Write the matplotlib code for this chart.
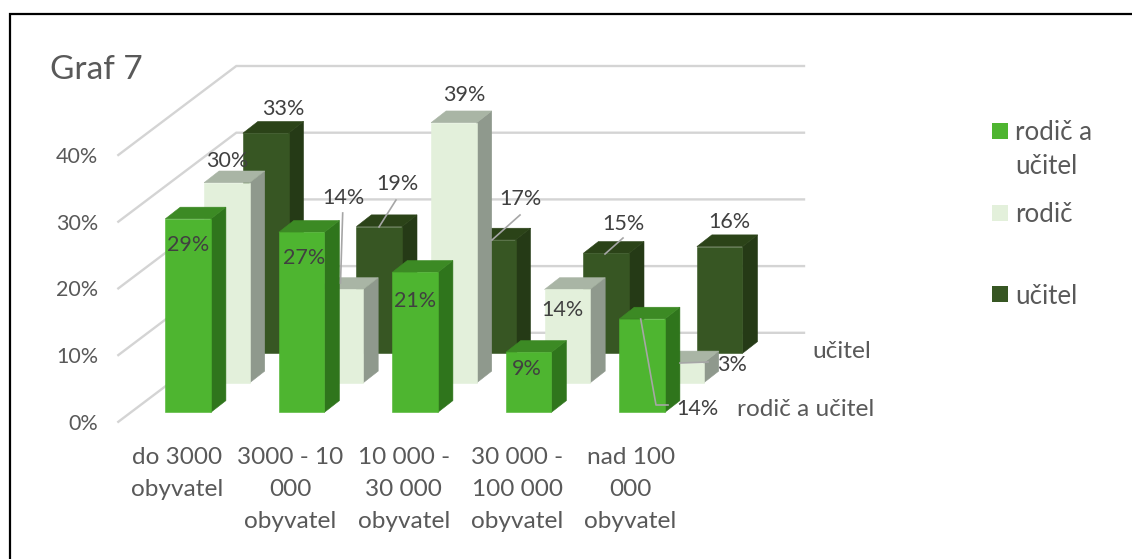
import matplotlib
matplotlib.use("Agg")
import matplotlib.pyplot as plt
from matplotlib.patches import Polygon, Rectangle
from matplotlib.transforms import Affine2D

W, H = 1132, 559
categories = ["do 3000\nobyvatel", "3000 - 10\n000\nobyvatel", "10 000 -\n30 000\nobyvatel",
              "30 000 -\n100 000\nobyvatel", "nad 100\n000\nobyvatel"]
series_names = ["rodič a učitel", "rodič", "učitel"]
rodic_a_ucitel = [29, 27, 21, 9, 14]
rodic = [30, 14, 39, 14, 3]
ucitel = [33, 19, 17, 15, 16]
y_ticks = [0, 10, 20, 30, 40]

TXT = "#595959"
LBL = "#404040"
GRID = "#D4D4D4"
LEAD = "#A6A6A6"
plt.rcParams["font.family"] = ["Lato", "DejaVu Sans"]

# pixel scale of the front plane
X0, XS, Y0, YS = 165.3, 113.5, 412.3, 6.67
fig = plt.figure(figsize=(W / 100, H / 100), dpi=100, facecolor="white")
ax = fig.add_axes([0, 0, 1, 1])
ax.set_xlim((0 - X0) / XS, (W - X0) / XS)
ax.set_ylim((Y0 - H) / YS, Y0 / YS)
ax.axis("off")
pix = Affine2D().scale(1 / W, -1 / H).translate(0, 1) + fig.transFigure
DY = 2  # vertical optical correction of Lato text

BW = 45.6 / XS                     # bar width
SD_X, SD_Y = 15 / XS, 11.7 / YS    # bar depth
ROW_X, ROW_Y = 38.8 / XS, 29.5 / YS  # offset between rows
WALL_X, WALL_Y = 118 / XS, 89 / YS
WALL_LEFT = (118.3 - X0) / XS
WALL_Y0 = (Y0 - 421.8) / YS
WALL_RIGHT = (804 - X0) / XS

# frame: only left and top edges are visible in the crop
ax.plot([9.5, 9.5, W], [H, 14, 14], transform=pix, color="black", lw=1.6, clip_on=False,
        solid_joinstyle="miter")

# walls and gridlines
for t in y_ticks:
    y = WALL_Y0 + t
    ax.plot([WALL_LEFT, WALL_LEFT + WALL_X, WALL_RIGHT], [y, y + WALL_Y, y + WALL_Y],
            color=GRID, lw=1.7, zorder=1, solid_joinstyle="miter")
    ax.text(98, Y0 - (y * YS) + DY, f"{t}%", transform=pix, ha="right", va="center",
            fontsize=15.5, color=TXT)


def bar(cat, row, value, cols, z):
    x = cat + row * ROW_X
    b = row * ROW_Y
    t = b + value
    front, side, top = cols
    ax.add_patch(Polygon([(x + BW, b), (x + BW + SD_X, b + SD_Y), (x + BW + SD_X, t + SD_Y), (x + BW, t)],
                         fc=side, ec=side, lw=0.4, zorder=z))
    ax.add_patch(Polygon([(x, t), (x + SD_X, t + SD_Y), (x + BW + SD_X, t + SD_Y), (x + BW, t)],
                         fc=top, ec=top, lw=0.4, zorder=z))
    ax.add_patch(Rectangle((x, b), BW, value, fc=front, ec=front, lw=0.4, zorder=z))


palette = [("#4EB530", "#2F751C", "#3C8A24"),
           ("#E3F0DB", "#8F998D", "#A9B5A5"),
           ("#375623", "#253A16", "#2B4318")]
values = [rodic_a_ucitel, rodic, ucitel]
for row in (2, 1, 0):
    for c, v in enumerate(values[row]):
        bar(c, row, v, palette[row], 5 + (2 - row))

# leader lines (pixels)
leaders = [([396, 379], [200, 227]), ([342.7, 340.5], [213, 283]), ([520, 492], [215, 240]),
           ([623, 605], [238, 254]), ([680, 708], [363, 362]),
           ([640.7, 656, 668], [319, 405, 405])]
for xs, ys in leaders:
    ax.plot(xs, ys, transform=pix, color=LEAD, lw=1.2, zorder=9)

# data labels (pixels)
label_pos = [[(188, 243), (304, 256), (415, 299), (527, 367), (697, 407)],
             [(227, 159), (343, 196), (464, 93), (562, 308), (732, 363)],
             [(283, 107), (397, 182), (520, 197), (623, 222), (729, 220)]]
for row in range(3):
    for (px, py), v in zip(label_pos[row], values[row]):
        ax.text(px, py + DY, f"{v}%", transform=pix, ha="center", va="center", fontsize=15.5,
                color=LBL, zorder=10)

# category labels
for i, cat in enumerate(categories):
    for j, line in enumerate(cat.split("\n")):
        ax.text(177 + i * 113.4, 456 + j * 32 + DY, line, transform=pix, ha="center", va="center",
                fontsize=17.6, color=TXT)

# depth axis labels
ax.text(842, 349 + DY, series_names[2], transform=pix, ha="center", va="center", fontsize=17.6, color=TXT)
ax.text(806, 407 + DY, series_names[0], transform=pix, ha="center", va="center", fontsize=17.6, color=TXT)

# title
ax.text(50, 68 + DY, "Graf 7", transform=pix, ha="left", va="center", fontsize=24, color=TXT)

# legend
for (sq_y, row) in zip((123, 205, 286), range(3)):
    ax.add_patch(Rectangle((992, sq_y), 16, 16, transform=pix, fc=palette[row][0], ec="none"))
for txt, y in (("rodič a", 131), ("učitel", 165), ("rodič", 212), ("učitel", 294)):
    ax.text(1015, y + DY, txt, transform=pix, ha="left", va="center", fontsize=18.6, color=TXT)

fig.savefig("out.png", dpi=100, facecolor="white")
